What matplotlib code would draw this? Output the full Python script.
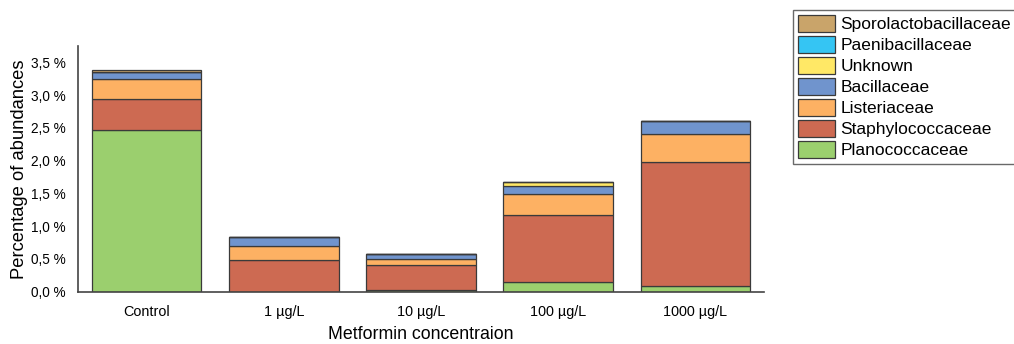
import matplotlib
matplotlib.use('Agg')
import matplotlib.pyplot as plt
import numpy as np

plt.rcParams['font.family'] = ['Liberation Sans', 'DejaVu Sans']

groups = ['Control', '1 µg/L', '10 µg/L', '100 µg/L', '1000 µg/L']
families = ['Planococcaceae', 'Staphylococcaceae', 'Listeriaceae', 'Bacillaceae',
            'Unknown', 'Paenibacillaceae', 'Sporolactobacillaceae']
colors = ['#9bcf6e', '#cd6a52', '#fdb163', '#7094cd', '#ffe866', '#35c5f3', '#c9a46a']

plano = [2.47, 0.0, 0.02, 0.15, 0.09]
staph = [0.47, 0.485, 0.38, 1.025, 1.885]
lister = [0.31, 0.21, 0.09, 0.315, 0.435]
bacil = [0.10, 0.14, 0.09, 0.12, 0.19]
unknown = [0.0, 0.0, 0.0, 0.07, 0.0]
paeni = [0.0, 0.0, 0.0, 0.0, 0.0]
sporo = [0.03, 0.0, 0.0, 0.0, 0.0]

series = [plano, staph, lister, bacil, unknown, paeni, sporo]

fig = plt.figure(figsize=(10.14, 3.44), dpi=100)
ax = fig.add_axes([0.0769, 0.1526, 0.6766, 0.7134])

x = np.arange(len(groups))
bottom = np.zeros(len(groups))
handles = []
for name, vals, c in zip(families, series, colors):
    vals = np.array(vals)
    h = ax.bar(x, vals, 0.8, bottom=bottom, color=c, edgecolor='#3a3a3a',
               linewidth=0.9, label=name)
    handles.append(h)
    bottom += vals

ax.set_xlim(-0.5, 4.5)
ax.set_ylim(0, 3.75)
yt = np.arange(0, 3.51, 0.5)
ax.set_yticks(yt)
ax.set_yticklabels([('%.1f %%' % v).replace('.', ',') for v in yt])
ax.set_xticks(x)
ax.set_xticklabels(groups)
ax.tick_params(axis='y', length=0, labelsize=9.8, pad=9)
ax.tick_params(axis='x', length=0, labelsize=10.4, pad=10)
for s in ['top', 'right']:
    ax.spines[s].set_visible(False)
for s in ['left', 'bottom']:
    ax.spines[s].set_color('#444444')
    ax.spines[s].set_linewidth(1.2)

ax.set_ylabel('Percentage of abundances', fontsize=13.2, labelpad=2)
ax.set_xlabel('Metformin concentraion', fontsize=12.8, labelpad=5)

leg = fig.legend(handles[::-1], families[::-1], loc='upper left',
                 bbox_to_anchor=(0.782, 0.972), fontsize=12.5, frameon=True,
                 fancybox=False, edgecolor='#444444', borderpad=0.3,
                 labelspacing=0.22, handlelength=2.13, handleheight=1.1,
                 handletextpad=0.3, borderaxespad=0)
leg.get_frame().set_linewidth(1.0)

fig.savefig('out.png', dpi=100)
